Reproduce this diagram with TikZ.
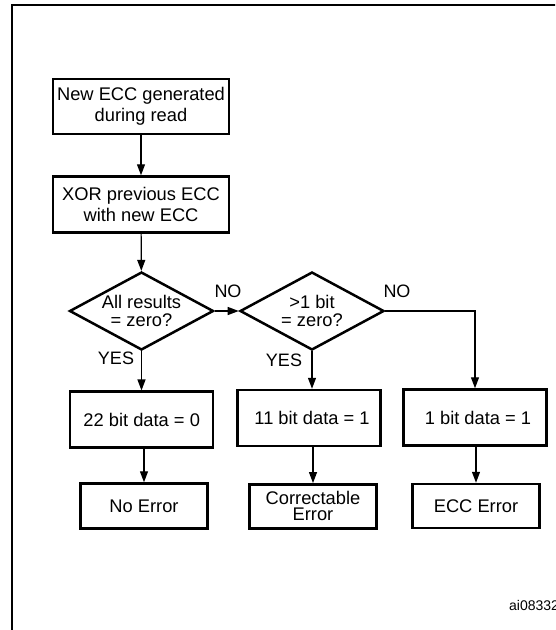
\documentclass[tikz,border=0pt]{standalone}
\usepackage{fontspec}
\setmainfont{Liberation Sans}
\usetikzlibrary{shapes.geometric,arrows.meta}
\tikzset{
  stepbox/.style={draw, line width=2.5pt, inner sep=0pt, align=center,
    font=\fontsize{18.3}{21}\selectfont},
  testbox/.style={draw, diamond, aspect=1.85, line width=2.5pt, inner sep=0pt,
    align=center, minimum width=144pt, minimum height=78pt,
    font=\fontsize{18.3}{17.5}\selectfont},
  flow/.style={line width=1.2pt, -{Triangle[length=11pt,width=8pt]}},
  lbl/.style={inner sep=0pt, font=\fontsize{18}{18}\selectfont}
}

\begin{document}
\begin{tikzpicture}[x=1pt,y=-1pt]
			%%%%% START %%%%%
			
			\useasboundingbox (0,0) rectangle (555,630);
			\clip (0,0) rectangle (555,630);
			\draw[line width=2.5pt] (12,700) -- (12,5) -- (620,5);
			
			\node[stepbox, minimum width=176pt, minimum height=55pt] (gen) at (141,106.5) {New ECC generated\\during read};
			\node[stepbox, minimum width=176pt, minimum height=56pt] (xor) at (141,204.5) {XOR previous ECC\\with new ECC};
			
			\node[testbox] (allz) at (141.5,311) {All results\\= zero?};
			\node[testbox] (bitz) at (312,311) {>1 bit\\= zero?};
			
			\node[stepbox, minimum width=143pt, minimum height=56pt] (zero22) at (141.7,419.7) {22 bit data = 0};
			\node[stepbox, minimum width=143pt, minimum height=56pt] (one11) at (309,418) {\hspace*{6pt}11 bit data = 1};
			\node[stepbox, minimum width=143pt, minimum height=56pt] (one1) at (475,417.5) {\hspace*{6pt}1 bit data = 1};
			
			\node[stepbox, minimum width=127pt, minimum height=45pt] (noerr) at (144,506) {No Error};
			\node[stepbox, minimum width=127pt, minimum height=44pt, font=\fontsize{18.3}{16}\selectfont] (corr) at (313,506.3) {Correctable\\Error};
			\node[stepbox, minimum width=127pt, minimum height=44pt] (eccerr) at (476,506) {ECC Error};
			
			\draw[flow] (gen) -- (xor);
			\draw[flow] (xor) -- (allz);
			\draw[flow] (allz) -- (bitz);
			\draw[flow] (allz) -- (allz.south |- zero22.north);
			\draw[flow] (bitz) -- (bitz.south |- one11.north);
			\draw[flow] (bitz.east) -| (one1.north);
			
			\draw[flow] (noerr.north |- zero22.south) -- (noerr);
			\draw[flow] (corr.north |- one11.south) -- (corr);
			\draw[flow] (eccerr.north |- one1.south) -- (eccerr);
			
			\node[lbl] (no1) at (228,291) {NO};
			\node[lbl] (no2) at (397,291) {NO};
			\node[lbl] (yes1) at (116,358.5) {YES};
			\node[lbl] (yes2) at (284,360) {YES};
			
			\node[inner sep=0pt, anchor=base west, font=\fontsize{14}{14}\selectfont] (figid) at (509,610) {ai08332};
			
			%%%%% END %%%%%
\end{tikzpicture}
\end{document}
